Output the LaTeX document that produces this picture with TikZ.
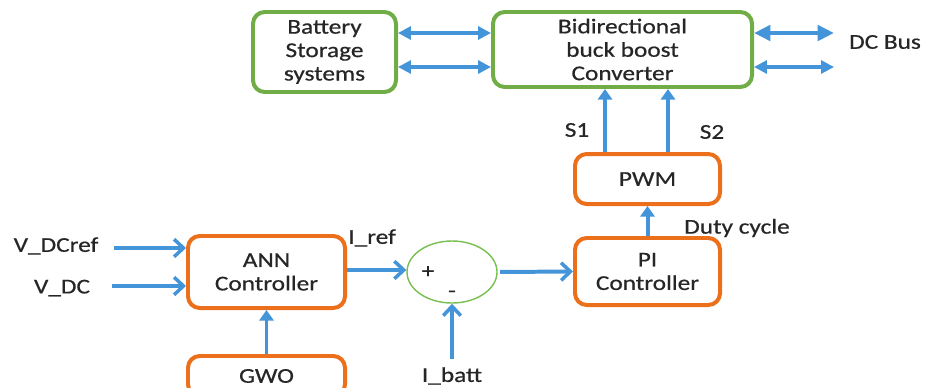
\documentclass[tikz,border=0pt]{standalone}
\usepackage{fontspec}
\setmainfont{Carlito}[FakeStretch=1.2, FakeBold=0.6]
\usetikzlibrary{arrows.meta, positioning, shapes.geometric}
\definecolor{boxgreen}{RGB}{112,173,71}
\definecolor{boxorange}{RGB}{236,112,28}
\definecolor{arrblue}{RGB}{68,148,218}
\definecolor{sumgreen}{RGB}{120,190,80}

\begin{document}
\begin{tikzpicture}[
  x=0.03cm, y=-0.03cm,
  node distance = 9mm and 10mm,
  gbox/.style = {
    rectangle, rounded corners=10pt, draw=boxgreen, line width=3.4pt,
    fill=white, font=\fontsize{18}{20}\selectfont, align=center,
    text=black!85, inner sep=0pt
  },
  obox/.style = {gbox, draw=boxorange},
  lbl/.style = {font=\fontsize{18}{20}\selectfont, text=black!85, inner sep=0pt},
  arr/.style = {-{Triangle[length=9pt, width=12pt]}, line width=3.4pt, draw=arrblue},
  chev/.style = {-{Straight Barb[length=8pt, width=15pt, line width=3pt]},
    line width=3.4pt, draw=arrblue},
  dbl/.style = {{Triangle[length=11pt, width=11pt]}-{Triangle[length=11pt, width=11pt]},
    line width=2.6pt, draw=arrblue}
]
\useasboundingbox (0,0) rectangle (936,387);

% upper row
\node[gbox, minimum width=42.9mm, minimum height=24mm] (batt) at (324.5,52)
  {Battery\\Storage\\systems};
\node[gbox, minimum width=77.7mm, minimum height=22.5mm] (conv) at (622.5,49.5)
  {Bidirectional\\buck boost\\Converter};
\coordinate (bus1) at (834,33);
\coordinate (bus2) at (834,67);
\node[lbl] (bus) at (885,42) {DC Bus};

% control loop
\node[obox, minimum width=47.1mm, minimum height=21.6mm] (ann) at (266.5,272)
  {ANN\\Controller};
\node[obox, minimum width=47.1mm, minimum height=12mm, below=13.2mm of ann] (gwo) {GWO};
\node[ellipse, draw=sumgreen, line width=1.2pt, minimum width=27mm,
  minimum height=18.6mm] (sum) at (452,272) {};
\node[lbl] (plus) at (428,272) {+};
\node[lbl] (minus) at (452,294) {-};
\node[obox, minimum width=43.5mm, minimum height=20.1mm] (pi) at (647.5,271.5)
  {PI\\Controller};
\node[obox, minimum width=43.5mm, minimum height=15mm, above=9mm of pi] (pwm) {PWM};

% labels
\node[lbl] (vdcref) at (56,246) {V\_DCref};
\node[lbl] (vdc) at (62,288) {V\_DC};
\node[lbl] (iref) at (372,238) {I\_ref};
\node[lbl] (ibatt) at (452,376) {I\_batt};
\node[lbl, anchor=west] (duty) at (684,228) {Duty cycle};
\node[lbl] (s1) at (577,130) {S1};
\node[lbl] (s2) at (712,132) {S2};

% connections
\draw[dbl] (batt.east |- 0,33) -- (conv.west |- 0,33);
\draw[dbl] (batt.east |- 0,67) -- (conv.west |- 0,67);
\draw[dbl, line width=3.6pt, {Triangle[length=14pt, width=13pt]}-{Triangle[length=14pt, width=13pt]}]
  (conv.east |- bus1) -- (bus1);
\draw[dbl] (conv.east |- bus2) -- (bus2);
\draw[chev] ([xshift=4.5mm]vdcref.east |- 0,248) -- (ann.west |- 0,248);
\draw[chev] ([xshift=6.5mm]vdc.east |- 0,286) -- (ann.west |- 0,286);
\draw[chev] (ann.east |- 0,270) -- (sum.west |- 0,270);
\draw[chev, shorten <=2pt] (sum.east) -- (pi.west);
\draw[chev, shorten <=2.5mm] (ibatt.north) -- (sum.south);
\draw[arr] (gwo.north) -- (ann.south);
\draw[arr] (pi.north) -- (pwm.south);
\draw[arr] ([xshift=-12.75mm]pwm.north) -- ([xshift=-12.75mm]pwm.north |- conv.south);
\draw[arr] ([xshift=6.15mm]pwm.north) -- ([xshift=6.15mm]pwm.north |- conv.south);
\end{tikzpicture}
\end{document}
